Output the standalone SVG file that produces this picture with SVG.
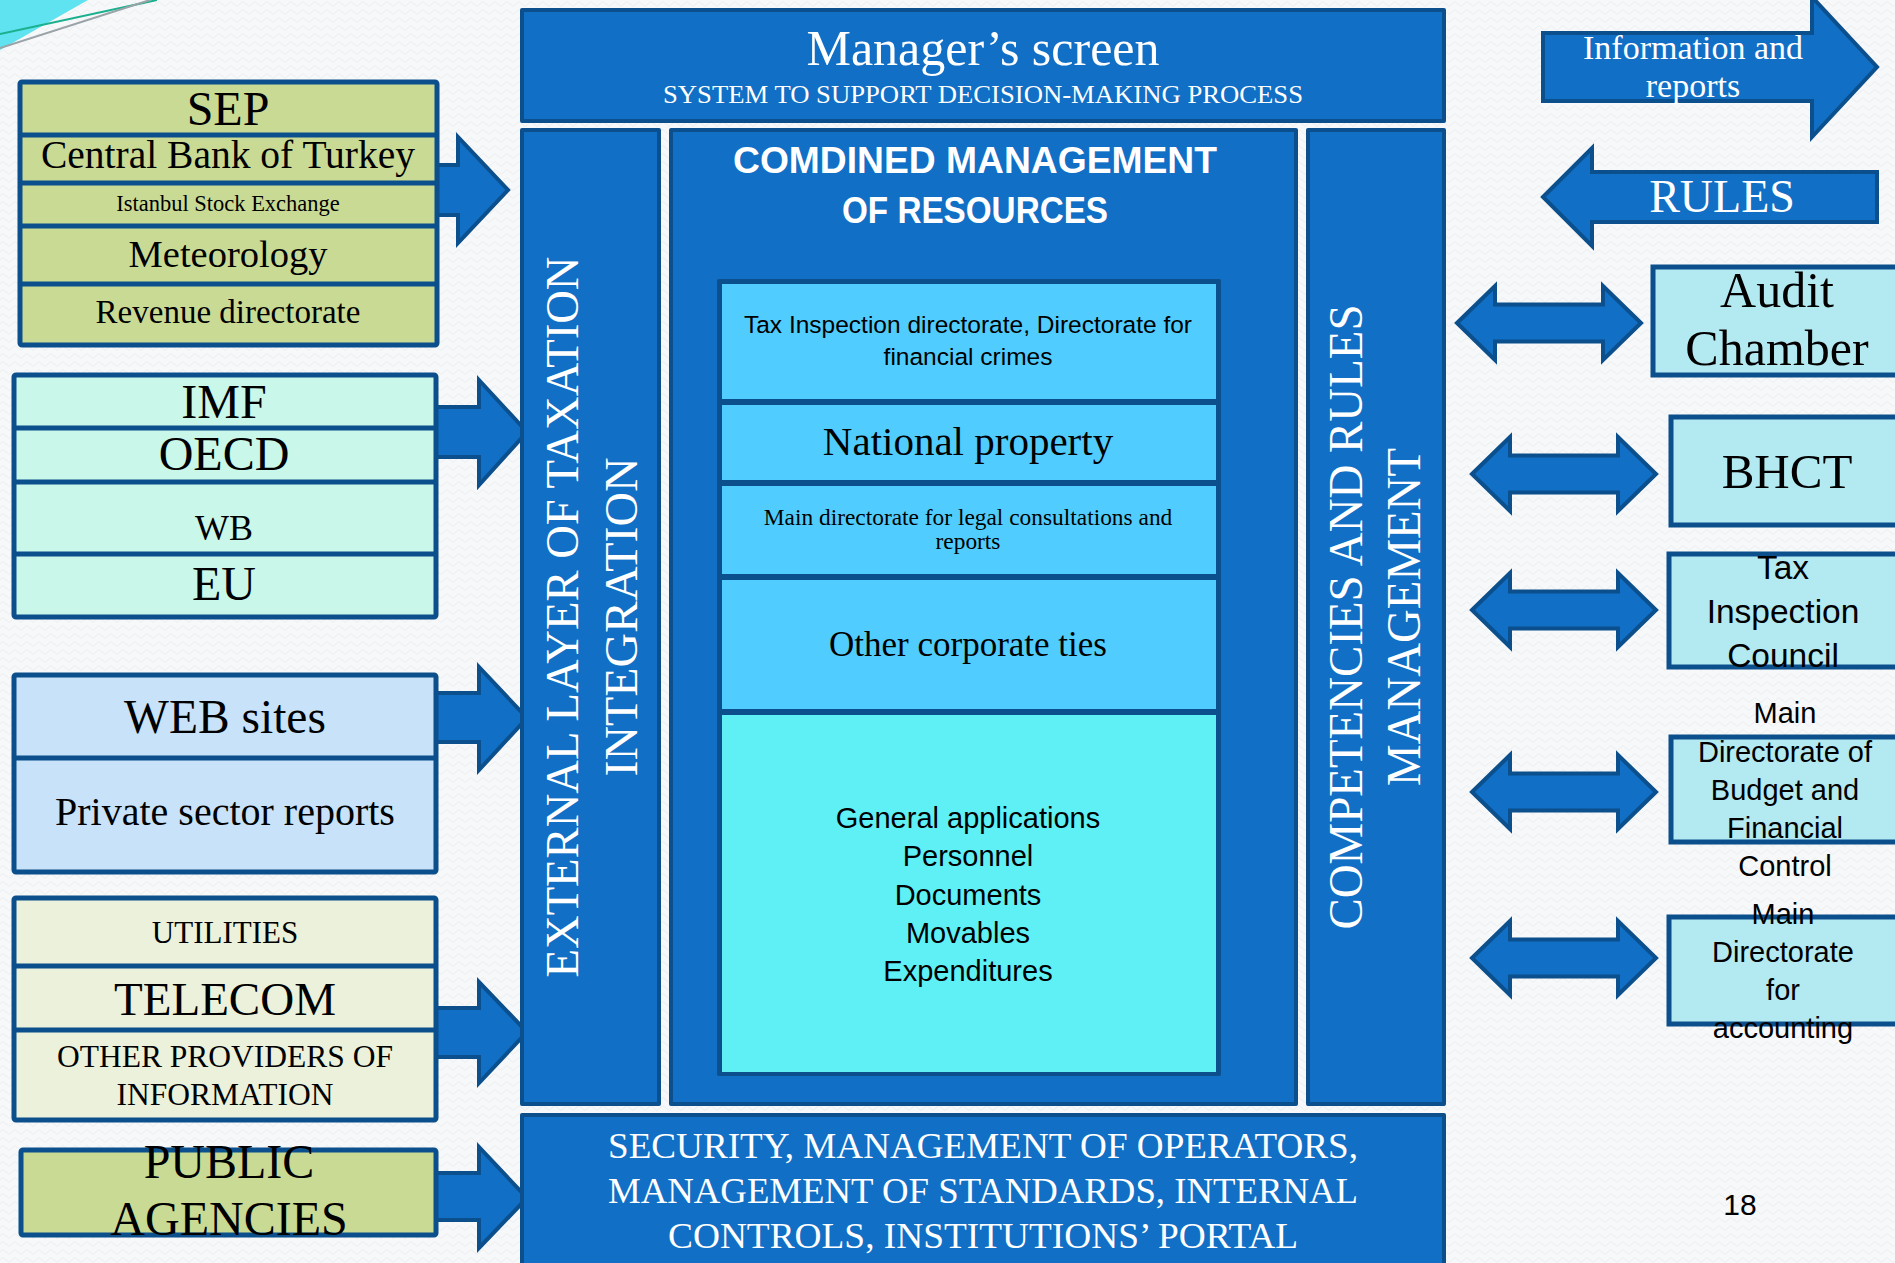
<svg xmlns="http://www.w3.org/2000/svg" width="1895" height="1263" viewBox="0 0 1895 1263">
<defs>
<pattern id="bgp" width="12" height="8" patternUnits="userSpaceOnUse">
<rect width="12" height="8" fill="#F7F8F9"/>
<path d="M0 4 L3 1.5 L6 4 L9 6.5 L12 4" fill="none" stroke="#ECEEF0" stroke-width="1"/>
</pattern>
<style>
.blk{fill:#116FC5;stroke:#0B4F8C;stroke-width:4;stroke-linejoin:round}
.arw{fill:#116FC5;stroke:#0B4F8C;stroke-width:4;stroke-linejoin:miter}
.div{stroke:#0B4F8C;stroke-width:5}
.srf{font-family:"Liberation Serif","Times New Roman",serif;text-anchor:middle;fill:#000}
.sns{font-family:"Liberation Sans",Arial,sans-serif;text-anchor:middle;fill:#000}
.w{fill:#FFFFFF}
.olive{fill:#C9DA95}
.mint{fill:#C9F7EA}
.pale{fill:#C7E2F9}
.cream{fill:#EBF1DB}
.sky{fill:#50CDFE}
.cyan{fill:#5FF0F6}
.rbox{fill:#B3E9F1}
</style>
</defs>
<rect width="1895" height="1263" fill="url(#bgp)"/>
<g id="decoration">
<polygon points="0,0 88,0 0,50" fill="#5FE3F0"/>
<line x1="0" y1="34" x2="157" y2="0" stroke="#1BB08E" stroke-width="2"/>
<line x1="0" y1="48" x2="150" y2="0" stroke="#9AA3A8" stroke-width="2"/>
</g>

<g id="connectors">
<path class="arw" d="M430,165 L458,165 L458,137 L508,190 L458,243 L458,215 L430,215 Z"/>
<path class="arw" d="M430,407 L479,407 L479,380 L527,432 L479,485 L479,457 L430,457 Z"/>
<path class="arw" d="M430,693 L479,693 L479,667 L527,718 L479,770 L479,742 L430,742 Z"/>
<path class="arw" d="M430,1008 L479,1008 L479,982 L527,1032 L479,1083 L479,1057 L430,1057 Z"/>
<path class="arw" d="M430,1173 L479,1173 L479,1147 L527,1198 L479,1248 L479,1220 L430,1220 Z"/>
<path class="arw" d="M1457,323 L1495,286 L1495,304.5 L1603,304.5 L1603,286 L1641,323 L1603,360 L1603,341.5 L1495,341.5 L1495,360 Z"/>
<path class="arw" d="M1472,474 L1510,437 L1510,455.5 L1618,455.5 L1618,437 L1656,474 L1618,511 L1618,492.5 L1510,492.5 L1510,511 Z"/>
<path class="arw" d="M1472,610 L1510,573 L1510,591.5 L1618,591.5 L1618,573 L1656,610 L1618,647 L1618,628.5 L1510,628.5 L1510,647 Z"/>
<path class="arw" d="M1472,792 L1510,755 L1510,773.5 L1618,773.5 L1618,755 L1656,792 L1618,829 L1618,810.5 L1510,810.5 L1510,829 Z"/>
<path class="arw" d="M1472,958 L1510,921 L1510,939.5 L1618,939.5 L1618,921 L1656,958 L1618,995 L1618,976.5 L1510,976.5 L1510,995 Z"/>
</g>

<g id="sep-group">
<rect class="olive" x="20" y="82" width="417" height="263" stroke="#0B4F8C" stroke-width="5" rx="2"/>
<line class="div" x1="20" y1="135" x2="437" y2="135"/>
<line class="div" x1="20" y1="183" x2="437" y2="183"/>
<line class="div" x1="20" y1="226" x2="437" y2="226"/>
<line class="div" x1="20" y1="284" x2="437" y2="284"/>
<text class="srf" x="228" y="125" font-size="48">SEP</text>
<text class="srf" x="228" y="168" font-size="39.5">Central Bank of Turkey</text>
<text class="srf" x="228" y="211" font-size="22.5">Istanbul Stock Exchange</text>
<text class="srf" x="228" y="267" font-size="38.5">Meteorology</text>
<text class="srf" x="228" y="323" font-size="33">Revenue directorate</text>
</g>

<g id="intl-group">
<rect class="mint" x="14" y="375" width="422" height="242" stroke="#0B4F8C" stroke-width="5" rx="2"/>
<line class="div" x1="14" y1="428" x2="436" y2="428"/>
<line class="div" x1="14" y1="482" x2="436" y2="482"/>
<line class="div" x1="14" y1="554" x2="436" y2="554"/>
<text class="srf" x="224" y="418" font-size="48">IMF</text>
<text class="srf" x="224" y="470" font-size="48">OECD</text>
<text class="srf" x="224" y="540" font-size="36">WB</text>
<text class="srf" x="224" y="600" font-size="48">EU</text>
</g>

<g id="web-group">
<rect class="pale" x="14" y="675" width="422" height="197" stroke="#0B4F8C" stroke-width="5" rx="2"/>
<line class="div" x1="14" y1="758" x2="436" y2="758"/>
<text class="srf" x="225" y="733" font-size="47.5">WEB sites</text>
<text class="srf" x="225" y="825" font-size="40">Private sector reports</text>
</g>

<g id="utilities-group">
<rect class="cream" x="14" y="898" width="422" height="222" stroke="#0B4F8C" stroke-width="5" rx="2"/>
<line class="div" x1="14" y1="966" x2="436" y2="966"/>
<line class="div" x1="14" y1="1030" x2="436" y2="1030"/>
<text class="srf" x="225" y="943" font-size="31">UTILITIES</text>
<text class="srf" x="225" y="1015" font-size="47">TELECOM</text>
<text class="srf" x="225" y="1067" font-size="31.5">OTHER PROVIDERS OF</text>
<text class="srf" x="225" y="1105" font-size="31.5">INFORMATION</text>
</g>

<g id="public-agencies">
<rect class="olive" x="21" y="1150" width="415" height="85" stroke="#0B4F8C" stroke-width="5" rx="2"/>
<text class="srf" x="229" y="1178" font-size="48">PUBLIC</text>
<text class="srf" x="229" y="1235" font-size="48">AGENCIES</text>
</g>

<g id="managers-screen">
<rect class="blk" x="522" y="10" width="922" height="111"/>
<text class="srf w" x="983" y="65" font-size="50">Manager’s screen</text>
<text class="srf w" x="983" y="103" font-size="26" textLength="640" lengthAdjust="spacingAndGlyphs">SYSTEM TO SUPPORT DECISION-MAKING PROCESS</text>
</g>

<g id="external-layer">
<rect class="blk" x="522" y="130" width="137" height="974"/>
<text class="srf w" transform="translate(578,617) rotate(-90)" x="0" y="0" font-size="47" textLength="721" lengthAdjust="spacingAndGlyphs">EXTERNAL LAYER OF TAXATION</text>
<text class="srf w" transform="translate(637,617) rotate(-90)" x="0" y="0" font-size="47" textLength="319" lengthAdjust="spacingAndGlyphs">INTEGRATION</text>
</g>

<g id="combined-management">
<rect class="blk" x="671" y="130" width="625" height="974"/>
<text class="sns w" x="975" y="173" font-size="36" font-weight="bold" textLength="484" lengthAdjust="spacingAndGlyphs">COMDINED MANAGEMENT</text>
<text class="sns w" x="975" y="223" font-size="36" font-weight="bold" textLength="266" lengthAdjust="spacingAndGlyphs">OF RESOURCES</text>
<rect x="717" y="279" width="504" height="797" fill="#0B4F8C" rx="2"/>
<rect class="sky" x="722" y="284" width="494" height="115"/>
<rect class="sky" x="722" y="405" width="494" height="75"/>
<rect class="sky" x="722" y="486" width="494" height="88"/>
<rect class="sky" x="722" y="580" width="494" height="129"/>
<rect class="cyan" x="722" y="715" width="494" height="357"/>
<text class="sns" x="968" y="333" font-size="24.5">Tax Inspection directorate, Directorate for</text>
<text class="sns" x="968" y="365" font-size="24.5">financial crimes</text>
<text class="srf" x="968" y="455" font-size="41">National property</text>
<text class="srf" x="968" y="525" font-size="23.4">Main directorate for legal consultations and</text>
<text class="srf" x="968" y="549" font-size="23.4">reports</text>
<text class="srf" x="968" y="656" font-size="35">Other corporate ties</text>
<text class="sns" x="968" y="828" font-size="29">General applications</text>
<text class="sns" x="968" y="866" font-size="29">Personnel</text>
<text class="sns" x="968" y="905" font-size="29">Documents</text>
<text class="sns" x="968" y="943" font-size="29">Movables</text>
<text class="sns" x="968" y="981" font-size="29">Expenditures</text>
</g>

<g id="competencies">
<rect class="blk" x="1308" y="130" width="136" height="974"/>
<text class="srf w" transform="translate(1362,617) rotate(-90)" x="0" y="0" font-size="48" textLength="625" lengthAdjust="spacingAndGlyphs">COMPETENCIES AND RULES</text>
<text class="srf w" transform="translate(1420,617) rotate(-90)" x="0" y="0" font-size="48" textLength="338" lengthAdjust="spacingAndGlyphs">MANAGEMENT</text>
</g>

<g id="security">
<rect class="blk" x="522" y="1115" width="922" height="160"/>
<text class="srf w" x="983" y="1158" font-size="35" textLength="750" lengthAdjust="spacingAndGlyphs">SECURITY, MANAGEMENT OF OPERATORS,</text>
<text class="srf w" x="983" y="1203" font-size="35" textLength="750" lengthAdjust="spacingAndGlyphs">MANAGEMENT OF STANDARDS, INTERNAL</text>
<text class="srf w" x="983" y="1248" font-size="35" textLength="630" lengthAdjust="spacingAndGlyphs">CONTROLS, INSTITUTIONS’ PORTAL</text>
</g>

<g id="info-reports">
<path class="arw" d="M1543,33 L1812,33 L1812,-3 L1877,67 L1812,137 L1812,101 L1543,101 Z"/>
<text class="srf w" x="1693" y="59" font-size="34">Information and</text>
<text class="srf w" x="1693" y="97" font-size="34">reports</text>
</g>

<g id="rules">
<path class="arw" d="M1543,197 L1592,148 L1592,172 L1877,172 L1877,222 L1592,222 L1592,246 Z"/>
<text class="srf w" x="1722" y="212" font-size="46">RULES</text>
</g>

<g id="audit-chamber">
<rect class="rbox" x="1653" y="267" width="260" height="108" stroke="#0B4F8C" stroke-width="5"/>
<text class="srf" x="1777" y="307" font-size="50">Audit</text>
<text class="srf" x="1777" y="365" font-size="50">Chamber</text>
</g>

<g id="bhct">
<rect class="rbox" x="1671" y="417" width="240" height="108" stroke="#0B4F8C" stroke-width="5"/>
<text class="srf" x="1787" y="488" font-size="49">BHCT</text>
</g>

<g id="tax-inspection-council">
<rect class="rbox" x="1669" y="554" width="240" height="113" stroke="#0B4F8C" stroke-width="5"/>
<text class="sns" x="1783" y="579" font-size="33.5">Tax</text>
<text class="sns" x="1783" y="623" font-size="33.5">Inspection</text>
<text class="sns" x="1783" y="667" font-size="33.5">Council</text>
</g>

<g id="budget-control">
<rect class="rbox" x="1671" y="737" width="240" height="105" stroke="#0B4F8C" stroke-width="5"/>
<text class="sns" x="1785" y="723" font-size="29">Main</text>
<text class="sns" x="1785" y="762" font-size="29">Directorate of</text>
<text class="sns" x="1785" y="800" font-size="29">Budget and</text>
<text class="sns" x="1785" y="838" font-size="29">Financial</text>
<text class="sns" x="1785" y="876" font-size="29">Control</text>
</g>

<g id="accounting">
<rect class="rbox" x="1669" y="917" width="240" height="107" stroke="#0B4F8C" stroke-width="5"/>
<text class="sns" x="1783" y="924" font-size="29">Main</text>
<text class="sns" x="1783" y="962" font-size="29">Directorate</text>
<text class="sns" x="1783" y="1000" font-size="29">for</text>
<text class="sns" x="1783" y="1038" font-size="29">accounting</text>
</g>

<g id="page-number">
<text class="sns" x="1740" y="1215" font-size="30">18</text>
</g>
</svg>
